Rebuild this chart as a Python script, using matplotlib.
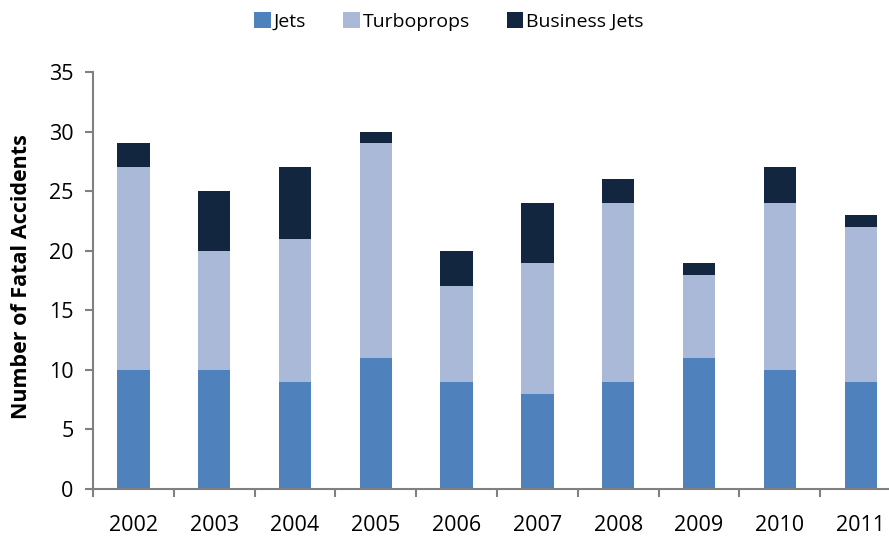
import numpy as np
import matplotlib.pyplot as plt

years = ['2002', '2003', '2004', '2005', '2006', '2007', '2008', '2009', '2010', '2011']
jets = [10, 10, 9, 11, 9, 8, 9, 11, 10, 9]
turboprops = [17, 10, 12, 18, 8, 11, 15, 7, 14, 13]
business = [2, 5, 6, 1, 3, 5, 2, 1, 3, 1]

plt.rcParams['font.family'] = ['Open Sans', 'DejaVu Sans']

fig = plt.figure(figsize=(8.89, 5.37), dpi=100)
ax = fig.add_axes([0.1046, 0.0894, 0.909, 0.7765])

x = np.arange(len(years))
w = 0.4
jets = np.array(jets)
turboprops = np.array(turboprops)
business = np.array(business)

ax.bar(x, jets, w, color='#4F81BD', label='Jets', edgecolor='none')
ax.bar(x, turboprops, w, bottom=jets, color='#AAB9D7', label='Turboprops', edgecolor='none')
ax.bar(x, business, w, bottom=jets + turboprops, color='#13263F', label='Business Jets', edgecolor='none')

ax.set_xlim(-0.5, len(years) - 0.5)
ax.set_ylim(0, 35)
ax.set_yticks(range(0, 36, 5))
ax.set_xticks(x)
ax.set_xticklabels(years)
ax.set_xticks(np.arange(-0.5, len(years), 1), minor=True)
ax.tick_params(axis='x', which='major', length=0, pad=19, labelsize=15.5)
ax.tick_params(axis='x', which='minor', length=6, width=1.5, color='#808080', direction='out')
ax.tick_params(axis='y', length=6, width=1.5, color='#808080', labelsize=15.5, pad=8)

for s in ['top', 'right']:
    ax.spines[s].set_visible(False)
for s in ['left', 'bottom']:
    ax.spines[s].set_color('#808080')
    ax.spines[s].set_linewidth(1.5)

ax.set_ylabel('Number of Fatal Accidents', fontsize=15.5, fontweight='bold')
ax.yaxis.set_label_coords(-0.075, 0.51)

fig.legend(loc='upper center', bbox_to_anchor=(0.505, 1.01), ncol=3, frameon=False,
           fontsize=14, handlelength=0.85, handleheight=0.85, handletextpad=0.15,
           columnspacing=1.9)

fig.savefig('out.png', dpi=100)
